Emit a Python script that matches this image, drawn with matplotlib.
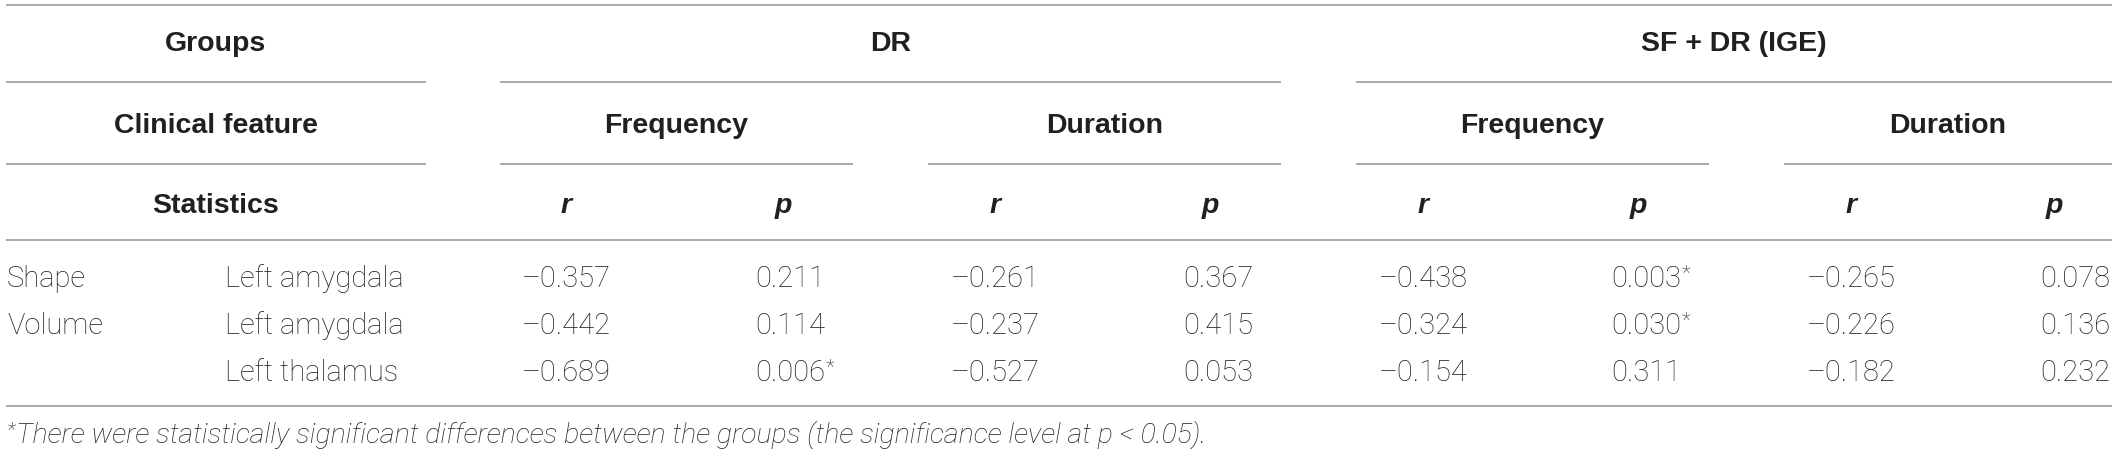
import matplotlib
matplotlib.use("Agg")
import matplotlib.pyplot as plt

# table content
groups = ["DR", "SF + DR (IGE)"]
features = ["Frequency", "Duration"]
stats = ["r", "p"]
row_kind = ["Shape", "Volume", ""]
row_region = ["Left amygdala", "Left amygdala", "Left thalamus"]

dr_freq_r = [-0.357, -0.442, -0.689]
dr_freq_p = [0.211, 0.114, 0.006]
dr_dur_r = [-0.261, -0.237, -0.527]
dr_dur_p = [0.367, 0.415, 0.053]
ige_freq_r = [-0.438, -0.324, -0.154]
ige_freq_p = [0.003, 0.030, 0.311]
ige_dur_r = [-0.265, -0.226, -0.182]
ige_dur_p = [0.078, 0.136, 0.232]

footnote = ("There were statistically significant differences between the groups "
            "(the significance level at p < 0.05).")

W, H = 2118, 454
fig = plt.figure(figsize=(W / 100, H / 100), dpi=100)
ax = fig.add_axes([0, 0, 1, 1])
ax.set_xlim(0, W)
ax.set_ylim(H, 0)
ax.axis("off")
renderer = fig.canvas.get_renderer()

ink = "#231f20"
rule = "#a3a3a3"
bold = dict(family=["Liberation Sans", "DejaVu Sans"], fontweight="bold", fontsize=20.5, color=ink)
light = dict(family=["Roboto", "DejaVu Sans"], fontweight="light", fontsize=21, color=ink)
note = dict(family=["Roboto", "DejaVu Sans"], fontweight="light", fontsize=20.5, color=ink, style="italic")


def hline(y, x0, x1):
    ax.plot([x0, x1], [y, y], color=rule, lw=1.3, solid_capstyle="butt")


def right_edge(t):
    bb = t.get_window_extent(renderer)
    return ax.transData.inverted().transform((bb.x1, bb.y0))[0]


def star(x, y_top, size, **kw):
    return ax.text(x, y_top, "*", ha="left", va="top", family=["Roboto", "DejaVu Sans"],
                   fontweight="light", fontsize=size, color=ink, **kw)


# horizontal rules
left, right = 6, 2112
hline(5, left, right)
group_spans = [(500, 1281), (1356, 2112)]
feat_spans = [(500, 853), (928, 1281), (1356, 1709), (1784, 2112)]
for y in (82, 164):
    hline(y, left, 426)
for x0, x1 in group_spans:
    hline(82, x0, x1)
for x0, x1 in feat_spans:
    hline(164, x0, x1)
hline(240, left, right)
hline(406, left, right)

# header text
ax.text(216, 51, "Groups", ha="center", va="baseline", **bold)
ax.text(216, 133, "Clinical feature", ha="center", va="baseline", **bold)
ax.text(216, 213, "Statistics", ha="center", va="baseline", **bold)
for g, (x0, x1) in zip(groups, group_spans):
    ax.text((x0 + x1) / 2, 51, g, ha="center", va="baseline", **bold)
for i, (x0, x1) in enumerate(feat_spans):
    ax.text((x0 + x1) / 2, 133, features[i % 2], ha="center", va="baseline", **bold)

r_x = [566, 995, 1423, 1851]
p_hdr_x = [783, 1210, 1638, 2054]
p_val_x = [755, 1183, 1611, 2040]
for i in range(4):
    ax.text(r_x[i], 213, stats[0], ha="center", va="baseline", style="italic", **bold)
    ax.text(p_hdr_x[i], 213, stats[1], ha="center", va="baseline", style="italic", **bold)

# body
row_y = [287, 334, 381]
r_cols = [dr_freq_r, dr_dur_r, ige_freq_r, ige_dur_r]
p_cols = [dr_freq_p, dr_dur_p, ige_freq_p, ige_dur_p]
for j, y in enumerate(row_y):
    ax.text(7, y, row_kind[j], ha="left", va="baseline", **light)
    ax.text(225, y, row_region[j], ha="left", va="baseline", **light)
    for i in range(4):
        rv = r_cols[i][j]
        pv = p_cols[i][j]
        ax.text(r_x[i], y, f"{rv:.3f}".replace("-", "\u2013"), ha="center", va="baseline", **light)
        t = ax.text(p_val_x[i], y, f"{pv:.3f}", ha="left", va="baseline", **light)
        if pv < 0.05:
            star(right_edge(t) + 1, y - 23, 15)

# footnote
s = star(7, 443 - 22, 15, style="italic")
ax.text(right_edge(s) + 1, 443, footnote, ha="left", va="baseline", **note)

fig.savefig("out.png", dpi=100, facecolor="white")
